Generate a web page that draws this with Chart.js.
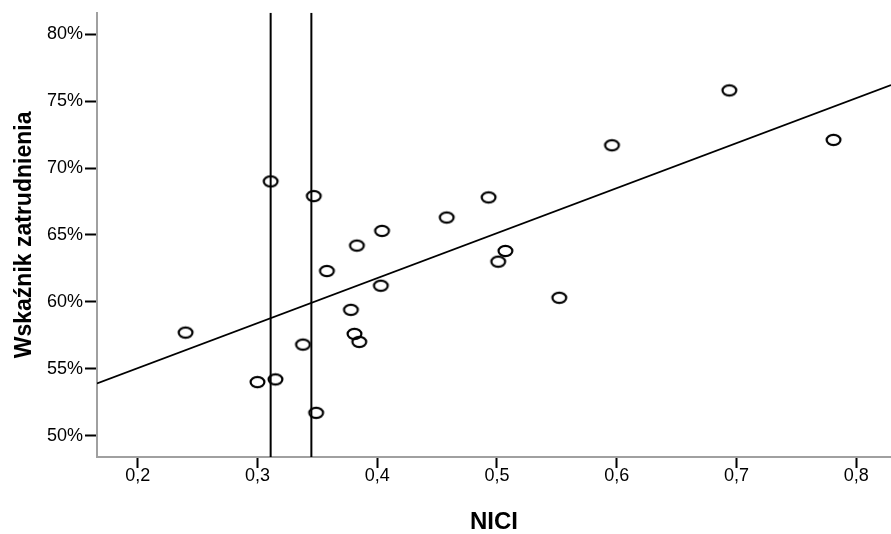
<!DOCTYPE html>
<html>
<head>
<meta charset="utf-8">
<script src="https://cdn.jsdelivr.net/npm/chart.js@4"></script>
<style>
  body { margin: 0; background: #fff; }
  #wrap { width: 891px; height: 534px; }
</style>
</head>
<body>
<div id="wrap"><canvas id="myChart" width="891" height="534"></canvas></div>
<script>
// NICI a wskaźnik zatrudnienia (%)
var nici = [0.240, 0.300, 0.315, 0.311, 0.347, 0.404, 0.383, 0.358, 0.403, 0.378, 0.381,
            0.385, 0.338, 0.349, 0.493, 0.458, 0.507, 0.501, 0.552, 0.596, 0.694, 0.781];
var zatrudnienie = [57.7, 54.0, 54.2, 69.0, 67.9, 65.3, 64.2, 62.3, 61.2, 59.4, 57.6,
                    57.0, 56.8, 51.7, 67.8, 66.3, 63.8, 63.0, 60.3, 71.7, 75.8, 72.1];

// osie
var xTicks = [0.2, 0.3, 0.4, 0.5, 0.6, 0.7, 0.8];
var yTicks = [50, 55, 60, 65, 70, 75, 80];
var xRange = [0.166, 0.829];
var yRange = [48.4, 81.6];

// linia regresji (wartości na krańcach osi X)
var fitY = [53.9, 76.2];

// pionowe linie odniesienia
var refX = [0.311, 0.345];

var fontFamily = '"Liberation Sans", Arial, sans-serif';

// znacznik punktu - pusty owal
function ovalMarker() {
  var c = document.createElement('canvas');
  c.width = 19;
  c.height = 16;
  var g = c.getContext('2d');
  g.lineWidth = 2.2;
  g.strokeStyle = '#000';
  g.beginPath();
  g.ellipse(9.5, 8, 6.9, 5.2, 0, 0, 2 * Math.PI);
  g.stroke();
  return c;
}

var points = nici.map(function (v, i) { return { x: v, y: zatrudnienie[i] }; });

var datasets = [{
  label: 'dane',
  data: points,
  pointStyle: ovalMarker(),
  showLine: false
}, {
  label: 'regresja',
  data: [{ x: xRange[0], y: fitY[0] }, { x: xRange[1], y: fitY[1] }],
  showLine: true,
  borderColor: '#000',
  borderWidth: 1.8,
  pointRadius: 0
}];

refX.forEach(function (v) {
  datasets.push({
    label: 'ref',
    data: [{ x: v, y: yRange[0] }, { x: v, y: yRange[1] }],
    showLine: true,
    borderColor: '#000',
    borderWidth: 2,
    pointRadius: 0
  });
});

var ctx = document.getElementById('myChart').getContext('2d');

var myChart = new Chart(ctx, {
  type: 'scatter',
  data: { datasets: datasets },
  options: {
    responsive: false,
    animation: false,
    layout: { autoPadding: false, padding: { top: 8, right: 0, bottom: 0, left: 0 } },
    plugins: {
      legend: { display: false },
      tooltip: { enabled: false }
    },
    scales: {
      x: {
        type: 'linear',
        min: xRange[0],
        max: xRange[1],
        afterBuildTicks: function (s) { s.ticks = xTicks.map(function (v) { return { value: v }; }); },
        afterFit: function (s) { s.height = 77; },
        ticks: {
          callback: function (v) { return v.toFixed(1).replace('.', ','); },
          font: { family: fontFamily, size: 18 },
          color: '#000',
          padding: -3,
          maxRotation: 0,
          autoSkip: false
        },
        grid: { drawOnChartArea: false, tickLength: 11, tickColor: '#000', tickWidth: 2 },
        border: { color: '#a0a0a0', width: 2 },
        title: {
          display: true,
          text: 'NICI',
          color: '#000',
          font: { family: fontFamily, size: 24, weight: 'bold' },
          padding: { top: 0, bottom: -3 }
        }
      },
      y: {
        type: 'linear',
        min: yRange[0],
        max: yRange[1],
        afterBuildTicks: function (s) { s.ticks = yTicks.map(function (v) { return { value: v }; }); },
        afterFit: function (s) { s.width = 97; },
        ticks: {
          callback: function (v) { return v + '%'; },
          font: { family: fontFamily, size: 18 },
          color: '#000',
          padding: 2,
          autoSkip: false
        },
        grid: { drawOnChartArea: false, tickLength: 12, tickColor: '#000', tickWidth: 2 },
        border: { color: '#a0a0a0', width: 2 },
        title: {
          display: true,
          text: 'Wskaźnik zatrudnienia',
          color: '#000',
          font: { family: fontFamily, size: 23, weight: 'bold' },
          padding: { top: 11, bottom: 0 }
        }
      }
    }
  }
});
</script>
</body>
</html>
